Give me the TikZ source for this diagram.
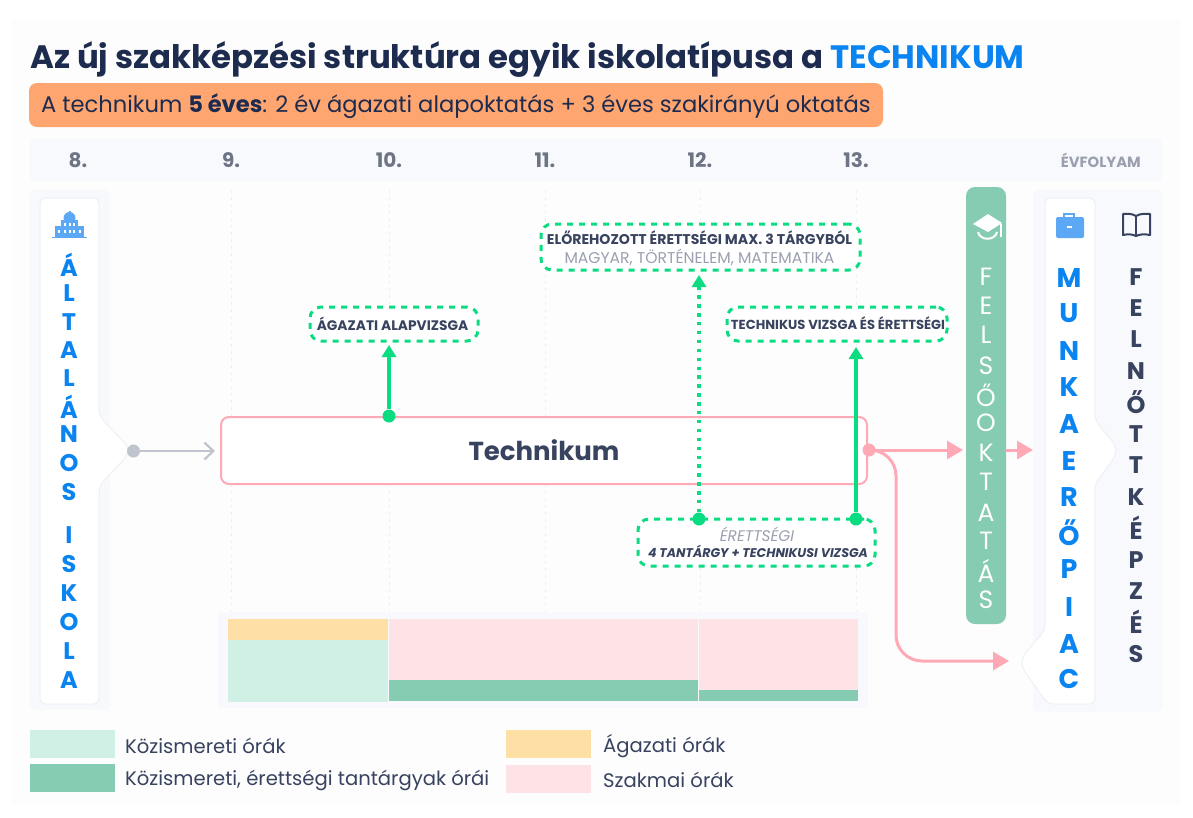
\documentclass[tikz,border=0pt]{standalone}
\usepackage{fontspec}
\setmainfont{Poppins}
\usetikzlibrary{arrows.meta,calc}
\definecolor{navy}{HTML}{38435F}
\definecolor{titlenavy}{HTML}{1D2B4F}
\definecolor{blue}{HTML}{0A84F0}
\definecolor{lblue}{HTML}{5CA8F5}
\definecolor{grey}{HTML}{6D7484}
\definecolor{lgrey}{HTML}{9AA0B0}
\definecolor{strip}{HTML}{F8F9FC}
\definecolor{grid}{HTML}{EEF0F6}
\definecolor{rose}{HTML}{FFA9B6}
\definecolor{jade}{HTML}{85CCB2}
\definecolor{mint}{HTML}{D0F0E6}
\definecolor{sand}{HTML}{FEDFA5}
\definecolor{blush}{HTML}{FDE3E5}
\definecolor{vivid}{HTML}{0ADC82}
\definecolor{orangeb}{HTML}{FFA56F}
\definecolor{arrowgrey}{HTML}{BFC4CE}
\tikzset{
  year/.style={font=\fontsize{20}{20}\selectfont\bfseries,text=grey,inner sep=0pt,anchor=center},
  vlet/.style={font=\fontsize{24}{24}\selectfont\bfseries,inner sep=0pt,anchor=center},
  examb/.style={draw=vivid,line width=3pt,dash pattern=on 6pt off 6pt,rounded corners=11pt,fill=white,inner sep=0pt,outer sep=0pt},
  extext/.style={inner sep=0pt,anchor=center,text=navy},
  solidg/.style={draw=vivid,line width=3.6pt,-{Triangle[length=12pt,width=14pt]}},
  dotg/.style={draw=vivid,line width=3.4pt,dash pattern=on 3.4pt off 5.5pt,-{Triangle[length=12pt,width=14pt]}},
  pinka/.style={draw=rose,line width=3pt,-{Triangle[length=16pt,width=18pt]}},
  dotn/.style={circle,inner sep=0pt,minimum size=#1},
  gridl/.style={draw=grid,line width=1pt,dash pattern=on 3pt off 4pt},
  legbox/.style={inner sep=0pt,outer sep=0pt,anchor=north west},
  legtxt/.style={inner sep=0pt,anchor=west,text=navy,font=\fontsize{19.6}{19.6}\selectfont},
}
\begin{document}
\begin{tikzpicture}[x=1pt,y=-1pt]
\useasboundingbox (0,0) rectangle (1193,817);
\fill[white] (0,0) rectangle (1193,817);
\fill[black!0.7!white] (12,20) rectangle (1180,805);
% title
\node[anchor=base west,inner sep=0pt,text=titlenavy,font=\fontsize{32.4}{32.4}\selectfont\bfseries] (title) at (30,68) {Az új szakképzési struktúra egyik iskolatípusa a \textcolor{blue}{TECHNIKUM}};
\node[anchor=north west,minimum width=854pt,minimum height=44pt,inner sep=0pt,outer sep=0pt,fill=orangeb,rounded corners=8pt] (banner) at (29,83) {};
\node[anchor=west,inner sep=0pt,text=titlenavy,font=\fontsize{22.6}{22.6}\selectfont] (bantext) at (41,106) {A technikum \textbf{5 éves}: 2 év ágazati alapoktatás + 3 éves szakirányú oktatás};
% year strip
\fill[strip,rounded corners=6pt] (30,139) rectangle (1162,181);
\node[year] (y8) at (78,160) {8.};
\node[year] (y9) at (231,160) {9.};
\node[year] (y10) at (389,160) {10.};
\node[year] (y11) at (545,160) {11.};
\node[year] (y12) at (700,160) {12.};
\node[year] (y13) at (856,160) {13.};
\node[inner sep=0pt,anchor=east,text=lgrey,font=\fontsize{14.8}{14.8}\selectfont\bfseries] (evf) at (1141,160) {ÉVFOLYAM};
% grid
\foreach \x in {231,389,545,700,856}{\draw[gridl] (\x,190) -- (\x,612);}
% side panels
\fill[strip,rounded corners=6pt] (30,190) rectangle (110,710);
\fill[strip,rounded corners=6pt] (1033,190) rectangle (1162,712);
% left card
\draw[draw=grid,fill=white,line width=1pt,rounded corners=6pt] (40,198) -- (99,198) -- (99,416) -- (128,446) -- (128,455) -- (99,486) -- (99,704) -- (40,704) -- cycle;
% right card
\draw[draw=grid,fill=white,line width=1pt,rounded corners=6pt] (1045,198) -- (1095,198) -- (1095,420) -- (1116,446) -- (1116,455) -- (1095,484) -- (1095,704) -- (1048,704) -- (1022,668) -- (1022,657) -- (1045,630) -- cycle;
% left letters
\foreach \l/\y in {Á/265,L/293,T/322,A/350,L/378,Á/407,N/434,O/463,S/492,I/535,S/564,K/593,O/622,L/651,A/680}{\node[vlet,text=blue] at (69,\y) {\l};}
% felsooktatas
\node[anchor=north west,minimum width=40pt,minimum height=437pt,inner sep=0pt,outer sep=0pt,fill=jade,rounded corners=9pt] (felso) at (966,187) {};
\foreach \l/\y in {F/277,E/306,L/335,S/366,Ő/395,O/423,K/453,T/482,A/513,T/541,Á/571,S/600}{\node[vlet,font=\fontsize{25}{25}\selectfont,text=white] at (986,\y) {\l};}
\foreach \l/\y in {M/278,U/313,N/351,K/387,A/424,E/461,R/497,Ő/533,P/569,I/607,A/644,C/679}{\node[vlet,font=\fontsize{27}{27}\selectfont\bfseries,text=blue] at (1069,\y) {\l};}
\foreach \l/\y in {F/277,E/308,L/339,N/371,Ő/402,T/434,T/465,K/497,É/528,P/560,Z/591,É/622,S/654}{\node[vlet,text=navy] at (1136,\y) {\l};}
% icons
\fill[lblue] (52,236.5) rectangle (87,238);
\fill[lblue] (55,226) rectangle (84,237);
\fill[lblue] (61,220) rectangle (78,237);
\fill[lblue] (69.5,218) circle (6pt);
\fill[lblue] (68.5,211) rectangle (70.5,214);
\foreach \x in {59,65,69.5,74,80}{\fill[white] (\x-1,230) rectangle (\x+1,233);}
\foreach \x in {65,69.5,74}{\fill[white] (\x-1,223) rectangle (\x+1,226);}
\draw[lblue,line width=1.6pt] (1064,218) -- (1064,214) -- (1074,214) -- (1074,218);
\fill[lblue,rounded corners=2pt] (1056,217) rectangle (1084,238);
\fill[white] (1067,226) rectangle (1072,228);
\draw[navy,line width=2pt,line join=round] (1136,216) .. controls (1131,213) and (1127,214) .. (1123,214) -- (1123,235) .. controls (1128,234) and (1132,234) .. (1136,236) .. controls (1140,234) and (1145,234) .. (1150,235) -- (1150,214) .. controls (1146,214) and (1141,213) .. (1136,216) -- cycle;
\draw[navy,line width=2pt] (1136,216) -- (1136,236);
\fill[white] (973,224) -- (988,214) -- (1002,223) -- (988,232) -- cycle;
\draw[white,line width=2pt] (978,232) .. controls (980,241) and (995,241) .. (997,232);
\draw[white,line width=1.6pt] (1001,224) -- (1001,237);
% technikum box
\node[anchor=north west,draw=rose,line width=2pt,fill=white,rounded corners=8pt,minimum width=646pt,minimum height=67pt,inner sep=0pt,outer sep=0pt] (tech) at (221,417) {};
\node[inner sep=0pt,text=navy,font=\fontsize{26}{26}\selectfont\bfseries] (techt) at (544,450) {Technikum};
% chart
\fill[strip] (218,612) rectangle (868,708);
\fill[sand] (228,619) rectangle (388,640);
\fill[mint] (228,640) rectangle (388,702);
\fill[blush] (388.7,619) rectangle (698,680);
\fill[blush] (699,619) rectangle (858,690);
\fill[jade] (388.7,680) rectangle (698,701);
\fill[jade] (699,690) rectangle (858,701);
% exam boxes
\node[examb,anchor=north west,minimum width=168pt,minimum height=34pt] (ag) at (310,307) {};
\node[extext,font=\fontsize{13.8}{13.8}\selectfont\bfseries] (agt) at (392.5,324) {ÁGAZATI ALAPVIZSGA};
\node[examb,anchor=north west,minimum width=319pt,minimum height=46pt] (elo) at (541,224) {};
\node[extext,font=\fontsize{14.1}{14.1}\selectfont\bfseries] (elot) at (699.5,238) {ELŐREHOZOTT ÉRETTSÉGI MAX. 3 TÁRGYBÓL};
\node[extext,text=lgrey,font=\fontsize{15.6}{15.6}\selectfont] (elot2) at (699.5,257) {MAGYAR, TÖRTÉNELEM, MATEMATIKA};
\node[examb,anchor=north west,minimum width=220pt,minimum height=34pt] (tv) at (727,307) {};
\node[extext,font=\fontsize{13.1}{13.1}\selectfont\bfseries] (tvt) at (838,323) {TECHNIKUS VIZSGA ÉS ÉRETTSÉGI};
\node[examb,anchor=north west,minimum width=237pt,minimum height=47pt] (er) at (638,519) {};
\node[extext,text=lgrey,font=\fontsize{15.4}{15.4}\selectfont\itshape] (ert) at (757,534) {ÉRETTSÉGI};
\node[extext,font=\fontsize{12.6}{12.6}\selectfont\bfseries\itshape] (ert2) at (758,551) {4 TANTÁRGY + TECHNIKUSI VIZSGA};
% connector ends
\node[dotn=13pt,fill=vivid] (d1) at (389,416) {};
\node[dotn=13pt,fill=vivid] (d2) at (699,519) {};
\node[dotn=13pt,fill=vivid] (d3) at (856,519) {};
\node[dotn=13pt,fill=rose] (d4) at (869,450) {};
\node[dotn=13pt,fill=arrowgrey] (d5) at (133.5,451) {};
\coordinate (agb) at (389,345);
\coordinate (elob) at (699,275);
\coordinate (tvb) at (856,347);
\coordinate (felsoL) at (963,450);
\coordinate (felsoR) at (1006,450);
\coordinate (munk) at (1033,450);
\coordinate (munk2) at (1009,661);
\coordinate (techL) at (215,451);
\draw[arrowgrey,line width=2.2pt,-{Straight Barb[length=9pt,width=17pt,line width=2.2pt]}] (d5) -- (techL);
\draw[solidg] (d1) -- (agb);
\draw[dotg] (d2) -- (elob);
\draw[solidg] (d3) -- (tvb);
\draw[pinka] (d4) -- (felsoL);
\draw[pinka] (felsoR) -- (munk);
\draw[draw=rose,line width=3pt,-{Triangle[length=16pt,width=18pt]},rounded corners=26pt] (d4) -- (896,450) -- (896,661) -- (munk2);
% legend
\node[legbox,fill=mint,minimum width=85pt,minimum height=28pt] (l1) at (30,730) {};
\node[legbox,fill=jade,minimum width=85pt,minimum height=28pt] (l2) at (30,764) {};
\node[legbox,fill=sand,minimum width=85pt,minimum height=28pt] (l3) at (506,730) {};
\node[legbox,fill=blush,minimum width=85pt,minimum height=28pt] (l4) at (506,765) {};
\node[legtxt] (lt1) at (125,746) {Közismereti órák};
\node[legtxt] (lt2) at (125,780) {Közismereti, érettségi tantárgyak órái};
\node[legtxt] (lt3) at (603,746) {Ágazati órák};
\node[legtxt] (lt4) at (603,780) {Szakmai órák};
\end{tikzpicture}
\end{document}
